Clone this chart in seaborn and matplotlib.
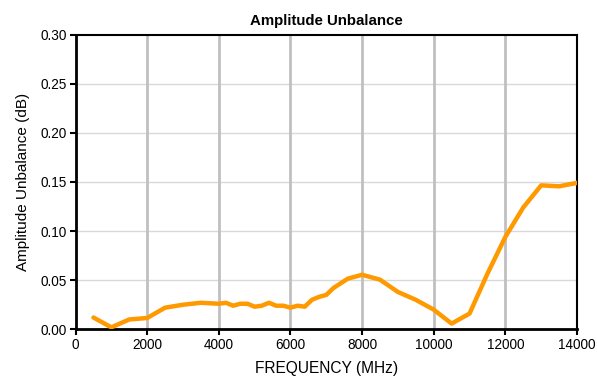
import matplotlib
matplotlib.use("Agg")
import matplotlib.pyplot as plt
import seaborn as sns
import pandas as pd

freq_mhz = [500, 1000, 1500, 2000, 2500, 3000, 3500, 4000, 4200, 4400, 4600, 4800,
            5000, 5200, 5400, 5600, 5800, 6000, 6200, 6400, 6600, 6800, 7000, 7200,
            7600, 8000, 8500, 9000, 9500, 10000, 10500, 11000, 11500, 12000, 12500,
            13000, 13500, 14000]
unbalance_db = [0.012, 0.002, 0.010, 0.0115, 0.022, 0.025, 0.027, 0.026, 0.027, 0.024,
                0.026, 0.026, 0.023, 0.024, 0.027, 0.024, 0.024, 0.022, 0.024, 0.023,
                0.030, 0.033, 0.035, 0.042, 0.0515, 0.0555, 0.0505, 0.038, 0.030, 0.020,
                0.0058, 0.016, 0.0566, 0.094, 0.124, 0.1465, 0.1455, 0.149]
x_ticks = [0, 2000, 4000, 6000, 8000, 10000, 12000, 14000]
y_ticks = [0.00, 0.05, 0.10, 0.15, 0.20, 0.25, 0.30]

df = pd.DataFrame({"freq": freq_mhz, "ub": unbalance_db})

sns.set_theme(style="white")
plt.rcParams["font.family"] = ["Liberation Sans", "DejaVu Sans"]
plt.rcParams["text.color"] = "black"
plt.rcParams["axes.labelcolor"] = "black"

fig = plt.figure(figsize=(5.97, 3.81), dpi=100)
ax = fig.add_axes([0.1265, 0.1357, 0.8400, 0.7737])

for v in x_ticks[1:-1]:
    ax.axvline(v, color="#c0c0c0", lw=2.0, zorder=1)
for v in y_ticks[1:-1]:
    ax.axhline(v, color="#d9d9d9", lw=1.0, zorder=0.5)

sns.lineplot(data=df, x="freq", y="ub", ax=ax, color="#FF9900", lw=3.2, zorder=3)

ax.set_xlim(0, 14000)
ax.set_ylim(0, 0.30)
ax.set_xticks(x_ticks)
ax.set_xticklabels([str(t) for t in x_ticks])
ax.set_yticks(y_ticks)
ax.set_yticklabels([f"{t:.2f}" for t in y_ticks])
ax.tick_params(axis="both", labelsize=9.8, colors="black", length=4, width=1.5, direction="out",
               bottom=True, left=True, pad=2)

for side in ["left", "bottom"]:
    ax.spines[side].set_linewidth(2.0)
    ax.spines[side].set_color("black")
for side in ["top", "right"]:
    ax.spines[side].set_linewidth(1.5)
    ax.spines[side].set_color("black")
    ax.spines[side].set_visible(True)

ax.set_title("Amplitude Unbalance", fontsize=10.8, fontweight="bold", pad=7, color="black")
ax.set_xlabel("FREQUENCY (MHz)", fontsize=11.2, labelpad=7, color="black")
ax.set_ylabel("Amplitude Unbalance (dB)", fontsize=11, labelpad=8, color="black")

fig.savefig("out.png", dpi=100)
